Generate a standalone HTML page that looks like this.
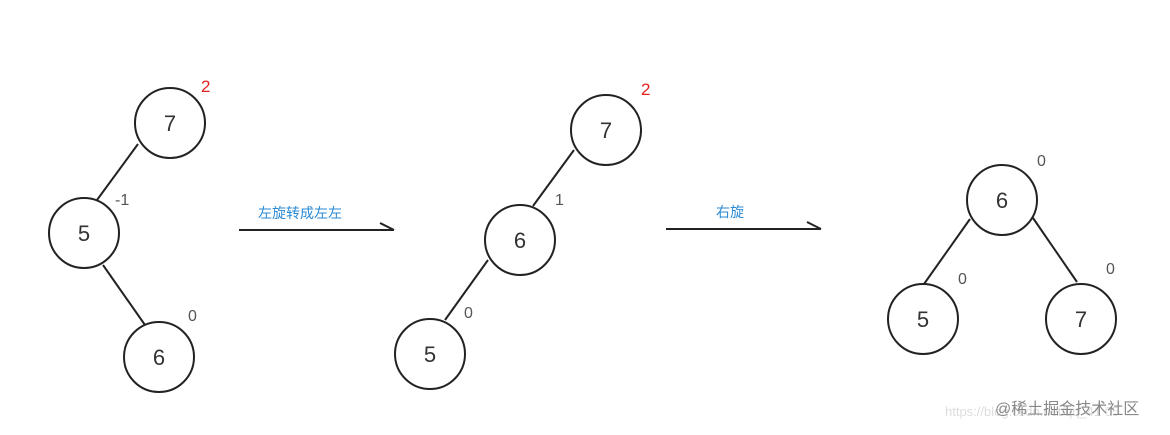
<!DOCTYPE html>
<html><head><meta charset="utf-8"><style>
html,body{margin:0;padding:0;background:#fff;}
svg{display:block;}
text{font-family:"Liberation Sans","Noto Sans CJK SC",sans-serif;}
</style></head><body>
<svg width="1170" height="435" viewBox="0 0 1170 435" xmlns="http://www.w3.org/2000/svg">
<g stroke="#222" stroke-width="2" fill="none">
<circle cx="170" cy="123" r="35"/>
<circle cx="84" cy="233" r="35"/>
<circle cx="159" cy="357" r="35"/>
<line x1="138" y1="144" x2="97" y2="200"/>
<line x1="103" y1="265" x2="145" y2="325"/>
<circle cx="606" cy="130" r="35"/>
<circle cx="520" cy="240" r="35"/>
<circle cx="430" cy="354" r="35"/>
<line x1="574" y1="150" x2="533" y2="206"/>
<line x1="488" y1="260" x2="445" y2="320"/>
<circle cx="1002" cy="200" r="35"/>
<circle cx="923" cy="319" r="35"/>
<circle cx="1081" cy="319" r="35"/>
<line x1="970" y1="219" x2="924" y2="284"/>
<line x1="1033" y1="218" x2="1077" y2="282"/>
<line x1="239" y1="230" x2="394" y2="230"/>
<line x1="380" y1="223" x2="394" y2="230"/>
<line x1="666" y1="229" x2="821" y2="229"/>
<line x1="807" y1="222" x2="821" y2="229"/>
</g>
<g fill="#333" font-size="22" text-anchor="middle">
<text x="170" y="131">7</text><text x="84" y="241">5</text><text x="159" y="365">6</text>
<text x="606" y="138">7</text><text x="520" y="248">6</text><text x="430" y="362">5</text>
<text x="1002" y="208">6</text><text x="923" y="327">5</text><text x="1081" y="327">7</text>
</g>
<g fill="#555" font-size="16">
<text x="115" y="205">-1</text><text x="188" y="321">0</text>
<text x="555" y="205">1</text><text x="464" y="318">0</text>
<text x="1037" y="166">0</text><text x="958" y="284">0</text><text x="1106" y="274">0</text>
</g>
<g fill="#e02020" font-size="17">
<text x="201" y="92">2</text><text x="641" y="95">2</text>
</g>
<g fill="#2a8ad4" font-size="14">
<text x="258" y="218">左旋转成左左</text>
<text x="716" y="217">右旋</text>
</g>
<text x="945" y="416" fill="#ddd" font-size="13">https://blog.csdn.net/qq_41 05</text>
<text x="995" y="414" fill="#888" font-size="16">@稀土掘金技术社区</text>
</svg>
</body></html>
